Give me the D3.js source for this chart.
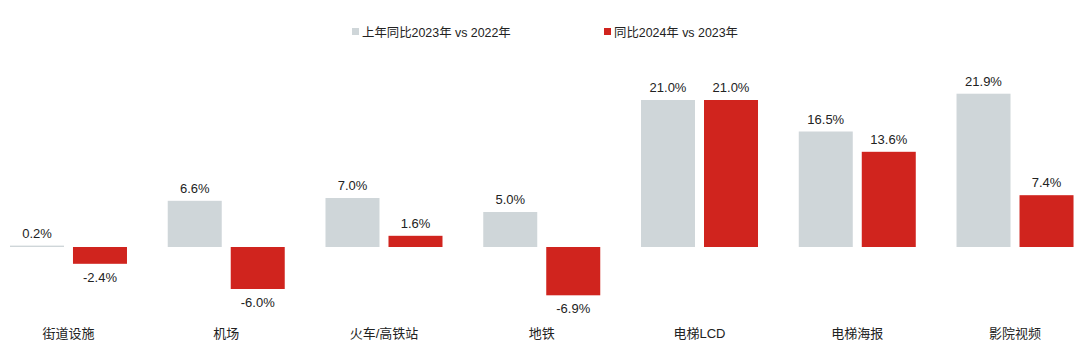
<!DOCTYPE html>
<html><head><meta charset="utf-8">
<script src="https://cdn.jsdelivr.net/npm/d3@7"></script>
<style>body{margin:0;background:#fff;}svg{display:block;font-family:"Liberation Sans","Noto Sans CJK SC",Arial,sans-serif;}</style>
</head><body>
<svg id="c" width="1080" height="361"></svg>
<script>
const categories = ["街道设施","机场","火车/高铁站","地铁","电梯LCD","电梯海报","影院视频"];
const seriesNames = ["上年同比2023年 vs 2022年","同比2024年 vs 2023年"];
const series2023 = [0.2, 6.6, 7.0, 5.0, 21.0, 16.5, 21.9];
const series2024 = [-2.4, -6.0, 1.6, -6.9, 21.0, 13.6, 7.4];
const colors = ["#CFD6D9","#D0241E"];

const svg = d3.select("#c");
const x0 = d3.scaleBand().domain(categories).range([-10.4, 1093.9]);
const x1 = d3.scaleBand().domain([0,1]).range([0,117]).paddingInner(0.1429);
const y = d3.scaleLinear().domain([0, 21]).range([247, 100]);
const values = [series2023, series2024];

categories.forEach((c,i)=>{
  const cx = x0(c) + x0.bandwidth()/2;
  const g = svg.append("g").attr("transform",`translate(${cx-58.5},0)`);
  values.forEach((vals,s)=>{
    const v = vals[i];
    const top = Math.min(y(v), y(0)), h = Math.max(Math.abs(y(v)-y(0)), 1);
    g.append("rect").attr("x", x1(s)).attr("y", top).attr("width", x1.bandwidth()).attr("height", h).attr("fill", colors[s]);
    g.append("text").attr("x", x1(s)+x1.bandwidth()/2)
      .attr("y", v>=0 ? y(v)-8 : y(v)+18)
      .attr("text-anchor","middle").attr("font-size",13).attr("fill","#222")
      .text(v.toFixed(1)+"%");
  });
  svg.append("text").attr("x",cx).attr("y",338).attr("text-anchor","middle")
    .attr("font-size",13).attr("fill","#222").text(c);
});

const legX = [352, 604];
seriesNames.forEach((n,s)=>{
  svg.append("rect").attr("x",legX[s]).attr("y",28).attr("width",7).attr("height",7).attr("fill",colors[s]);
  svg.append("text").attr("x",legX[s]+10).attr("y",36.5).attr("font-size",12.4).attr("fill","#222").text(n);
});
</script>
</body></html>
